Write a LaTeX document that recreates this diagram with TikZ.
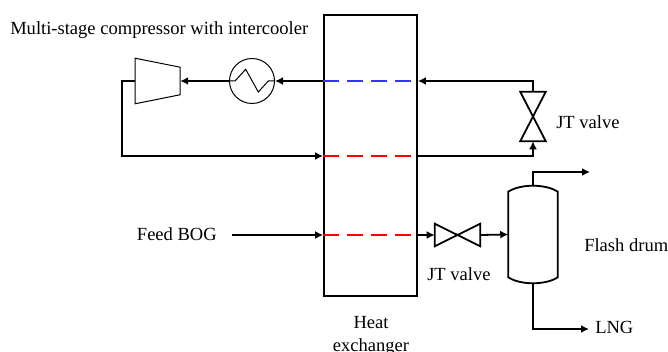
\documentclass[tikz,border=0pt]{standalone}
\usepackage{fontspec}
\setmainfont{Liberation Serif}
\usetikzlibrary{arrows.meta}
\begin{document}
\begin{tikzpicture}[
    x=0.75pt, y=-0.75pt,
    M/.style={draw, line width=1.35pt, -{Latex[length=6pt,width=6pt]}},
    D/.style={line width=1.35pt, dash pattern=on 11.6pt off 6.4pt},
    L/.style={inner sep=0pt, font=\fontsize{13.9}{17.25}\selectfont, align=center},
    hx/.style={draw, line width=1.35pt, inner sep=0pt, minimum width=69.75pt, minimum height=210.75pt},
    cooler/.style={draw, circle, line width=0.75pt, inner sep=0pt, minimum size=33.75pt},
    comp/.style={inner sep=0pt, minimum width=33.4pt, minimum height=33.75pt},
    hvalve/.style={inner sep=0pt, minimum width=33.75pt, minimum height=16.5pt},
    vvalve/.style={inner sep=0pt, minimum width=18.75pt, minimum height=36.75pt},
    drum/.style={inner sep=0pt, minimum width=36.75pt, minimum height=63.75pt}
  ]
  \useasboundingbox (0,0) rectangle (668,352);

  \node [hx] (hex) at (370.5,155.5) {};
  \node [cooler] (cool) at (252,81) {};
  \node [comp] (comp) at (157.7,81) {};
  \node [hvalve] (jtb) at (457.5,235) {};
  \node [vvalve] (jta) at (533,116.5) {};
  \node [drum] (drum) at (533,234.5) {};

  % compressor, valves and drum
  \draw [line width=0.75pt] (comp.north west) -- ([yshift=-6.75pt]comp.north east)
    -- ([yshift=6.75pt]comp.south east) -- (comp.south west) -- cycle;
  \draw [line width=1.35pt] (jtb.north west) -- (jtb.south east) -- (jtb.north east) -- (jtb.south west) -- cycle;
  \draw [line width=1.35pt] (jta.north west) -- (jta.north east) -- (jta.south west) -- (jta.south east) -- cycle;
  \draw [line width=1.35pt] (drum.north west) .. controls +(12,-8) and +(-12,-8) .. (drum.north east)
    -- (drum.south east) .. controls +(-12,8) and +(12,8) .. (drum.south west) -- cycle;
  \draw [line width=0.75pt] (cool.west) -- (235,81) -- (245.7,69.3) -- (258.3,92) -- (268.3,81) -- (cool.east);

  % hx dashes
  \coordinate (bl) at (hex.west |- 0,81);
  \coordinate (br) at (hex.east |- 0,81);
  \coordinate (ml) at (hex.west |- 0,156);
  \coordinate (mr) at (hex.east |- 0,156);
  \coordinate (fl) at (hex.west |- 0,235);
  \coordinate (fr) at (hex.east |- 0,235);
  \draw [D, blue!80] (bl) -- (br);
  \draw [D, red] (ml) -- (mr);
  \draw [D, red] (fl) -- (fr);

  % streams
  \draw [M] (bl) -- (cool.east);
  \draw [M] (cool.west) -- (comp.east);
  \draw [M] (comp.west) -- (122,81) -- (122,156) -- (ml);
  \draw [M] (mr) -| (jta.south);
  \draw [M] (jta.north) |- (br);
  \node [L, anchor=base east] (feed) at (217,241) {Feed BOG};
  \coordinate (fs) at (232,235);
  \draw [M] (fs) -- (fl);
  \draw [M] (fr) -- (jtb.west);
  \draw [M] (jtb.east) -- (drum.west);
  \coordinate (gas) at (590,172);
  \coordinate (lng) at (589,329);
  \draw [M] ([yshift=4.5pt]drum.north) |- (gas);
  \draw [M] ([yshift=-5pt]drum.south) |- (lng);

  % labels
  \node [L, anchor=base west] (title) at (10,35) {Multi-stage compressor with intercooler};
  \node [L, anchor=base west] (lab1) at (556,129) {JT valve};
  \node [L, anchor=base west] (lab2) at (427,281) {JT valve};
  \node [L, anchor=base west] (lab3) at (584,252) {Flash drum};
  \node [L, anchor=base west] (lab4) at (595,334) {LNG};
  \node [L, anchor=north] (lab5) at (371,316) {Heat\\exchanger};
\end{tikzpicture}
\end{document}
